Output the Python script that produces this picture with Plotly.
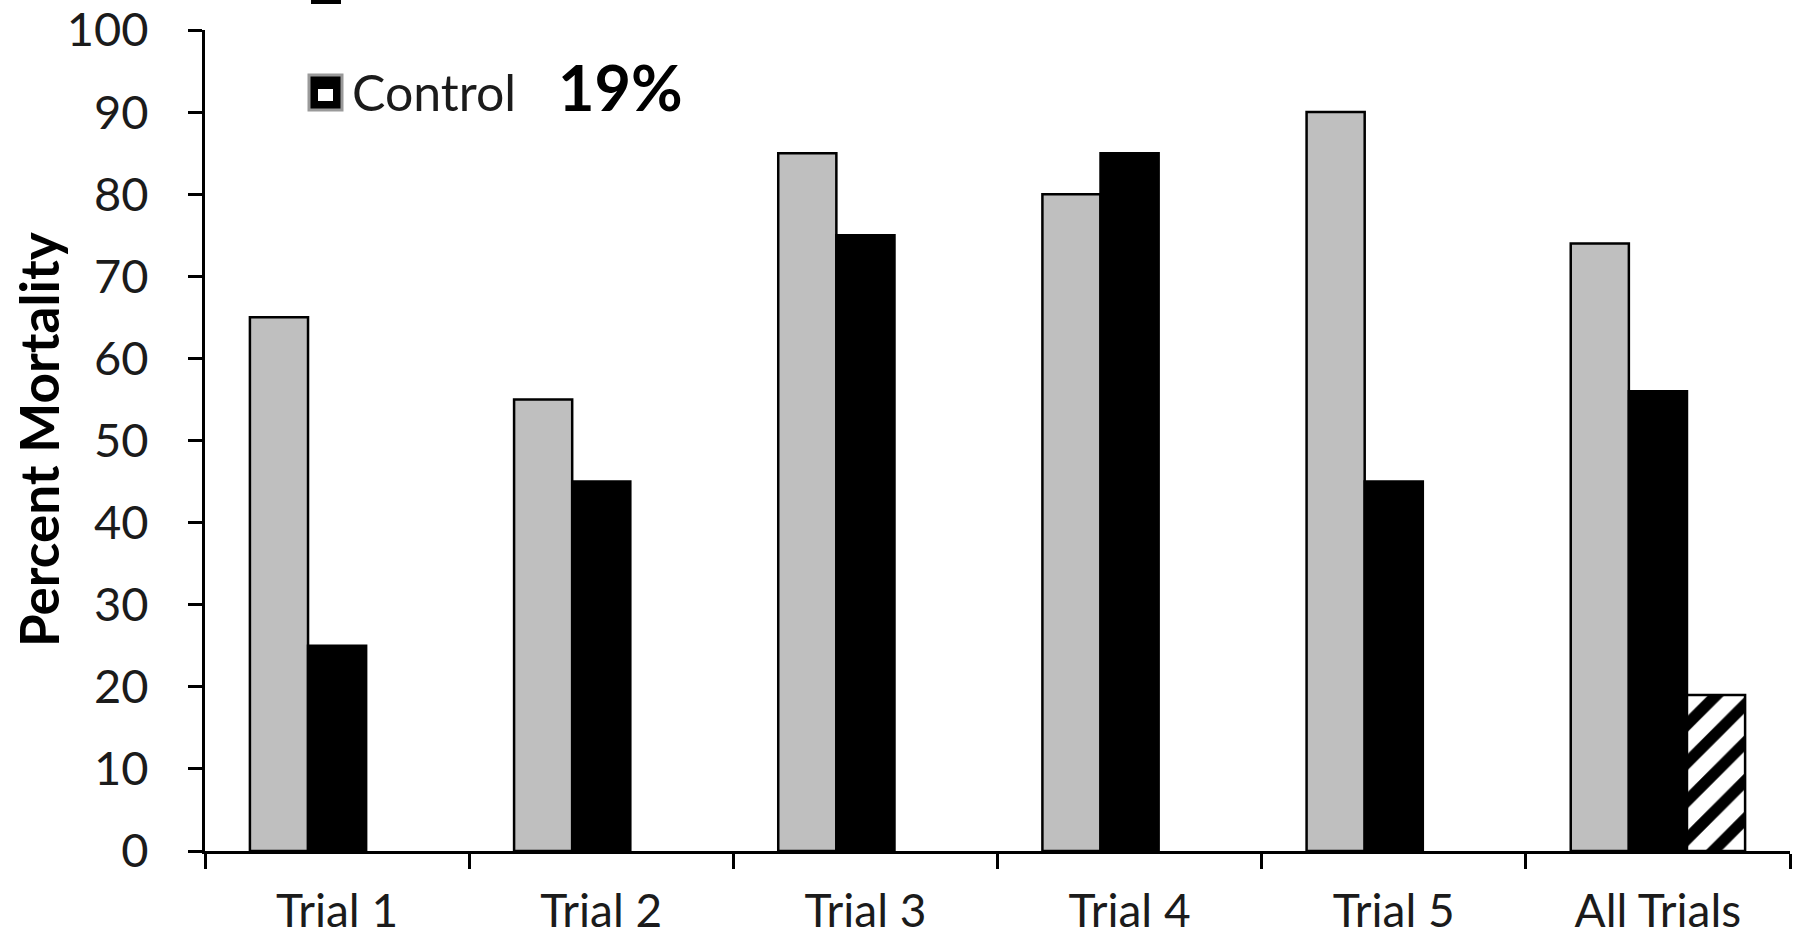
import plotly.graph_objects as go

# Percent mortality per trial
categories = ["Trial 1", "Trial 2", "Trial 3", "Trial 4", "Trial 5", "All Trials"]
grey_series = [65, 55, 85, 80, 90, 74]
black_series = [25, 45, 75, 85, 45, 56]
control_categories = ["All Trials"]
control_series = [19]
y_ticks = list(range(0, 101, 10))

FONT = "Lato, Carlito, Calibri, 'Open Sans', sans-serif"
TEXT = "#1b1b1b"

W, H = 1794, 938
L, R, T, B = 205, 4, 30, 87
pw, ph = W - L - R, H - T - B


def px(x):
    return (x - L) / pw


def py(y):
    return (H - B - y) / ph


fig = go.Figure()
fig.add_trace(go.Bar(
    x=categories, y=grey_series, name="Treatment A",
    marker=dict(color="#BFBFBF", line=dict(color="#000000", width=2.5)),
))
fig.add_trace(go.Bar(
    x=categories, y=black_series, name="Treatment B",
    marker=dict(color="#000000", line=dict(color="#000000", width=2.5)),
))
fig.add_trace(go.Bar(
    x=control_categories, y=control_series, name="Control",
    marker=dict(color="#FFFFFF", line=dict(color="#000000", width=2.5),
                pattern=dict(shape="/", fgcolor="#000000", bgcolor="#FFFFFF",
                             fgopacity=1, size=27, solidity=0.42)),
))

fig.update_layout(
    width=W, height=H,
    margin=dict(l=L, r=R, t=T, b=B, autoexpand=False),
    paper_bgcolor="white", plot_bgcolor="white",
    barmode="group", bargap=0.34, bargroupgap=0,
    showlegend=False,
    font=dict(family=FONT, color=TEXT),
)
fig.update_xaxes(
    categoryorder="array", categoryarray=categories,
    showline=True, linecolor="black", linewidth=3,
    ticks="outside", tickson="boundaries", ticklen=15, tickwidth=3, tickcolor="black",
    tickfont=dict(size=46, family=FONT, color=TEXT),
    ticklabelstandoff=18, automargin=False,
    showgrid=False, zeroline=False,
)
fig.update_yaxes(
    range=[0, 100], tickvals=y_ticks,
    showline=True, linecolor="black", linewidth=3,
    ticks="outside", ticklen=14, tickwidth=3, tickcolor="black",
    tickfont=dict(size=47, family=FONT, color=TEXT),
    ticklabelstandoff=30, automargin=False,
    showgrid=False, zeroline=False,
)

# y-axis title
fig.add_annotation(
    text="<b>Percent Mortality</b>", textangle=-90,
    xref="paper", yref="paper", x=px(38), y=py(440),
    xanchor="center", yanchor="middle", showarrow=False,
    font=dict(size=53, family=FONT, color="#000000"),
)

# legend entries drawn as shapes and text
fig.add_shape(type="rect", xref="paper", yref="paper",
              x0=px(311), x1=px(341), y0=py(4), y1=py(-2),
              fillcolor="#000000", line=dict(width=0))
fig.add_shape(type="rect", xref="paper", yref="paper",
              x0=px(309), x1=px(342), y0=py(110), y1=py(75),
              fillcolor="#000000", line=dict(color="#9a9a9a", width=3))
fig.add_shape(type="rect", xref="paper", yref="paper",
              x0=px(318), x1=px(333), y0=py(101), y1=py(89),
              fillcolor="#FFFFFF", line=dict(width=0))
fig.add_annotation(
    text="Control", xref="paper", yref="paper", x=px(350), y=py(92),
    xanchor="left", yanchor="middle", showarrow=False,
    font=dict(size=50, family=FONT, color=TEXT),
)
fig.add_annotation(
    text="<b>19%</b>", xref="paper", yref="paper", x=px(556), y=py(86),
    xanchor="left", yanchor="middle", showarrow=False,
    font=dict(size=63, family=FONT, color="#000000"),
)

fig.write_html("out.html")
